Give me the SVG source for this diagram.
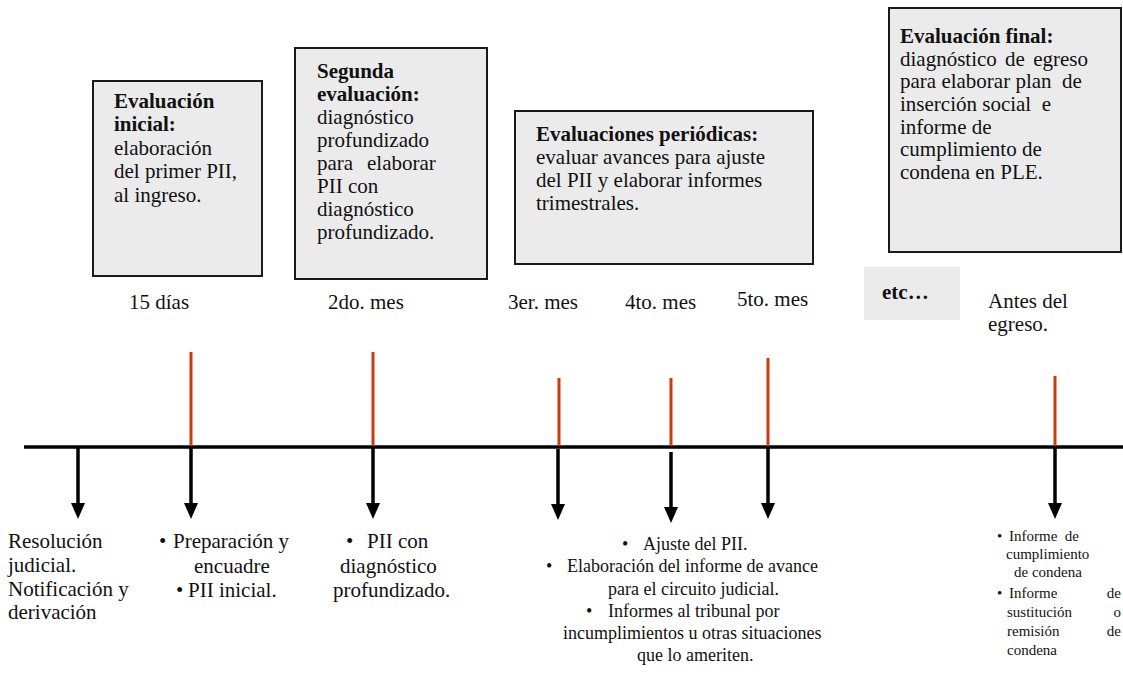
<svg xmlns="http://www.w3.org/2000/svg" width="1123" height="681" viewBox="0 0 1123 681">
<style>
text{font-family:"Liberation Serif","Times New Roman",serif;fill:#111;}
.t{font-size:21px;}
.b{font-weight:bold;}
.m{font-size:18px;}
.s{font-size:15px;}
.box{fill:#ebebeb;stroke:#1a1a1a;stroke-width:2;}
.red{stroke:#cf3a0c;stroke-width:3;}
.blk{stroke:#000;stroke-width:3.5;fill:none;}
</style>
<defs>
<marker id="ah" markerUnits="userSpaceOnUse" markerWidth="16" markerHeight="14" viewBox="0 0 16 14" refX="0" refY="7" orient="auto">
<path d="M0,0 L16,7 L0,14 z" fill="#000"/>
</marker>
</defs>
<rect width="1123" height="681" fill="#fff"/>

<g id="connectors">
<line class="blk" x1="24" y1="447" x2="1123" y2="447"/>
<line class="red" x1="191" y1="352" x2="191" y2="446"/>
<line class="red" x1="373" y1="352" x2="373" y2="446"/>
<line class="red" x1="559" y1="378" x2="559" y2="446"/>
<line class="red" x1="671" y1="378" x2="671" y2="446"/>
<line class="red" x1="768" y1="358" x2="768" y2="446"/>
<line class="red" x1="1055" y1="376" x2="1055" y2="446"/>
<line class="blk" x1="78" y1="447" x2="78" y2="503" marker-end="url(#ah)"/>
<line class="blk" x1="191" y1="447" x2="191" y2="503" marker-end="url(#ah)"/>
<line class="blk" x1="373" y1="447" x2="373" y2="503" marker-end="url(#ah)"/>
<line class="blk" x1="558" y1="449" x2="558" y2="504" marker-end="url(#ah)"/>
<line class="blk" x1="671" y1="452" x2="671" y2="507" marker-end="url(#ah)"/>
<line class="blk" x1="768" y1="447" x2="768" y2="503" marker-end="url(#ah)"/>
<line class="blk" x1="1055" y1="447" x2="1055" y2="503" marker-end="url(#ah)"/>
</g>

<g id="box-inicial">
<rect class="box" x="93" y="81" width="169" height="195"/>
<text class="t b" x="114" y="108">Evaluación</text>
<text class="t b" x="114" y="131">inicial:</text>
<text class="t" x="114" y="155">elaboración</text>
<text class="t" x="114" y="178">del primer PII,</text>
<text class="t" x="114" y="202">al ingreso.</text>
</g>

<g id="box-segunda">
<rect class="box" x="295" y="48" width="192" height="231"/>
<text class="t b" x="317" y="78">Segunda</text>
<text class="t b" x="317" y="101">evaluación:</text>
<text class="t" x="317" y="124">diagnóstico</text>
<text class="t" x="317" y="147">profundizado</text>
<text class="t" x="317" y="170">para <tspan x="367">elaborar</tspan></text>
<text class="t" x="317" y="193">PII con</text>
<text class="t" x="317" y="216">diagnóstico</text>
<text class="t" x="317" y="239">profundizado.</text>
</g>

<g id="box-periodicas">
<rect class="box" x="515" y="111" width="298" height="153"/>
<text class="t b" x="536" y="141">Evaluaciones periódicas:</text>
<text class="t" x="536" y="164">evaluar avances para ajuste</text>
<text class="t" x="536" y="187">del PII y elaborar informes</text>
<text class="t" x="536" y="210">trimestrales.</text>
</g>

<g id="box-final">
<rect class="box" x="889" y="8" width="232" height="244"/>
<text class="t b" x="900" y="43">Evaluación final:</text>
<text class="t" x="900" y="66" word-spacing="3">diagnóstico de egreso</text>
<text class="t" x="900" y="88" xml:space="preserve">para elaborar plan  de</text>
<text class="t" x="900" y="111" xml:space="preserve">inserción social  e</text>
<text class="t" x="900" y="134">informe de</text>
<text class="t" x="900" y="156">cumplimiento de</text>
<text class="t" x="900" y="179">condena en PLE.</text>
</g>

<g id="labels">
<text class="t" x="129" y="309">15 días</text>
<text class="t" x="328" y="309">2do. mes</text>
<text class="t" x="508" y="309">3er. mes</text>
<text class="t" x="625" y="309">4to. mes</text>
<text class="t" x="737" y="306">5to. mes</text>
<text class="t" x="988" y="308">Antes del</text>
<text class="t" x="988" y="331">egreso.</text>
</g>

<g id="etc">
<rect x="864" y="267" width="96" height="53" fill="#ebebeb"/>
<text class="t b" x="882" y="299">etc…</text>
</g>

<g id="out-resolucion">
<text class="t" x="8" y="548">Resolución</text>
<text class="t" x="8" y="572">judicial.</text>
<text class="t" x="8" y="596">Notificación y</text>
<text class="t" x="8" y="619">derivación</text>
</g>

<g id="out-preparacion">
<text class="t" x="159" y="548">•</text>
<text class="t" x="173" y="548">Preparación y</text>
<text class="t" x="194" y="573">encuadre</text>
<text class="t" x="176" y="597">•</text>
<text class="t" x="188" y="597">PII inicial.</text>
</g>

<g id="out-pii">
<text class="t" x="346" y="548">•</text>
<text class="t" x="367" y="548">PII con</text>
<text class="t" x="340" y="573">diagnóstico</text>
<text class="t" x="333" y="597">profundizado.</text>
</g>

<g id="out-ajuste">
<text class="m" x="622" y="550">•</text>
<text class="m" x="643" y="550">Ajuste del PII.</text>
<text class="m" x="546" y="572">•</text>
<text class="m" x="567" y="572">Elaboración del informe de avance</text>
<text class="m" x="608" y="595">para el circuito judicial.</text>
<text class="m" x="586" y="617">•</text>
<text class="m" x="608" y="617">Informes al tribunal por</text>
<text class="m" x="563" y="639">incumplimientos u otras situaciones</text>
<text class="m" x="637" y="661">que lo ameriten.</text>
</g>

<g id="out-informe">
<text class="s" x="997" y="541">•</text>
<text class="s" x="1009" y="541" xml:space="preserve">Informe  de</text>
<text class="s" x="1006" y="559">cumplimiento</text>
<text class="s" x="1014" y="577">de condena</text>
<text class="s" x="997" y="598">•</text>
<text class="s" x="1009" y="598">Informe</text>
<text class="s" x="1121" y="598" text-anchor="end">de</text>
<text class="s" x="1007" y="617">sustitución</text>
<text class="s" x="1121" y="617" text-anchor="end">o</text>
<text class="s" x="1007" y="636">remisión</text>
<text class="s" x="1121" y="636" text-anchor="end">de</text>
<text class="s" x="1007" y="655">condena</text>
</g>
</svg>
